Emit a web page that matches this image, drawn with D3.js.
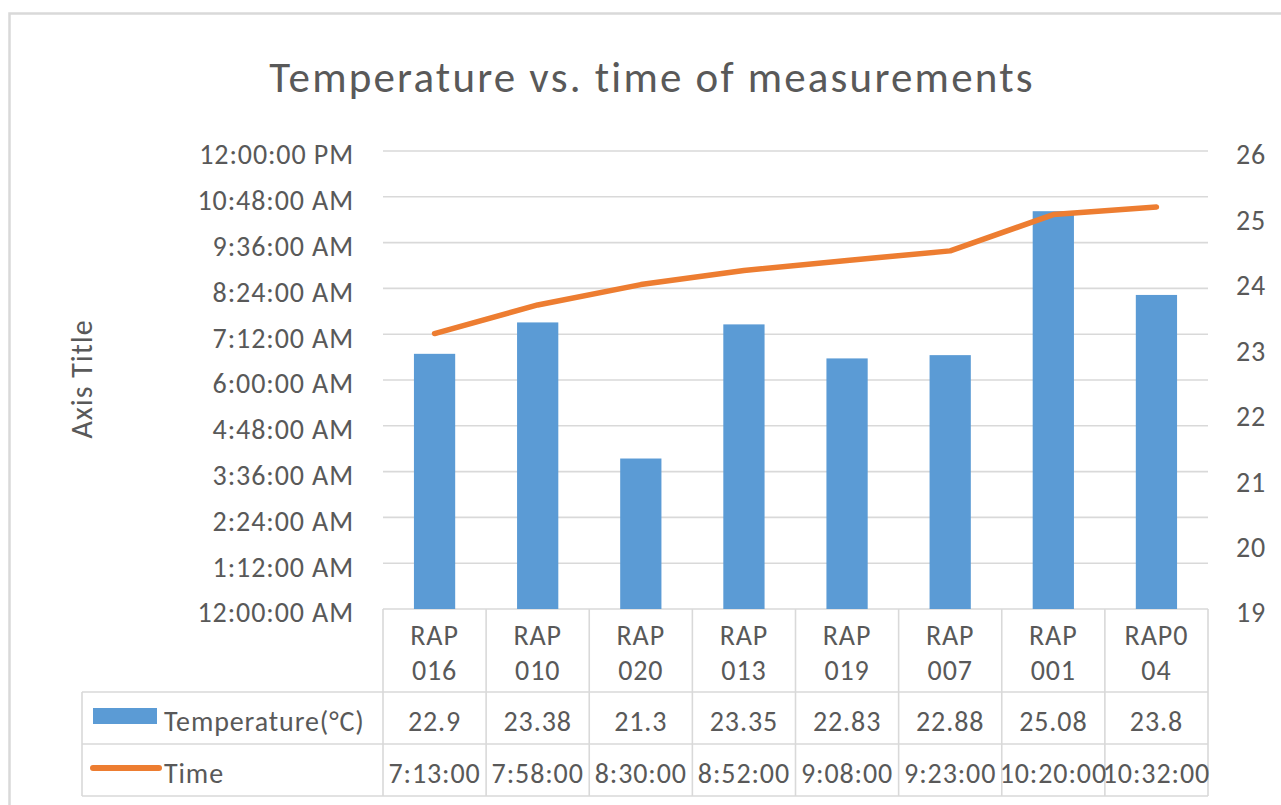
<!DOCTYPE html>
<html>
<head>
<meta charset="utf-8">
<script src="https://cdn.jsdelivr.net/npm/d3@7"></script>
<style>
  html, body { margin: 0; padding: 0; background: #ffffff; }
  svg { display: block; }
  text { font-family: Carlito, Calibri, Lato, sans-serif; fill: #595959; }
</style>
</head>
<body>
<svg id="chart" width="1281" height="805"></svg>
<script>
// Measurement stations, in the order they were visited
const categories = ["RAP 016", "RAP 010", "RAP 020", "RAP 013", "RAP 019", "RAP 007", "RAP 001", "RAP004"];
// Temperature per station (°C), right axis
const temperatures = [22.9, 23.38, 21.3, 23.35, 22.83, 22.88, 25.08, 23.8];
// Time of each measurement, left axis
const times = ["7:13:00", "7:58:00", "8:30:00", "8:52:00", "9:08:00", "9:23:00", "10:20:00", "10:32:00"];
// Axis ticks
const timeTicksMinutes = [0, 72, 144, 216, 288, 360, 432, 504, 576, 648, 720];
const tempTicks = [19, 20, 21, 22, 23, 24, 25, 26];

const seriesNames = ["Temperature(°C)", "Time"];
const chartTitle = "Temperature vs. time of measurements";
const leftAxisTitle = "Axis Title";

const BLUE = "#5b9bd5", ORANGE = "#ed7d31", GRID = "#d9d9d9";
const FONT = "Carlito, Calibri, Lato, sans-serif";
const LABEL_SIZE = 28, LABEL_SPACING = "0.9px";

const toMinutes = s => { const [h, m, sec] = s.split(":").map(Number); return h * 60 + m + sec / 60; };
const fmtClock = mins => {
  const h24 = Math.floor(mins / 60) % 24, m = Math.round(mins % 60);
  const h12 = h24 % 12 === 0 ? 12 : h24 % 12;
  return `${h12}:${String(m).padStart(2, "0")}:00 ${h24 < 12 ? "AM" : "PM"}`;
};
// Break a category name into two lines: at the space, otherwise after four characters
const wrapName = s => s.includes(" ") ? s.split(" ") : [s.slice(0, 4), s.slice(4)];

const svg = d3.select("#chart");
const labelStyle = sel => sel
  .attr("font-size", LABEL_SIZE)
  .attr("fill", "#595959")
  .style("font-family", FONT)
  .style("letter-spacing", LABEL_SPACING);

// Plot area and data-table rows
const plot = { left: 383, right: 1208, top: 151, bottom: 609 };
const table = { left: 82, headerBottom: 692, row1Bottom: 744, row2Bottom: 796 };

const x = d3.scaleBand().domain(categories).range([plot.left, plot.right]).paddingInner(0).paddingOuter(0);
const yTime = d3.scaleLinear().domain([0, 720]).range([plot.bottom, plot.top]);
const yTemp = d3.scaleLinear().domain([19, 26]).range([plot.bottom, plot.top]);

// Chart frame
svg.append("rect")
  .attr("x", 9.5).attr("y", 13.5).attr("width", 1400).attr("height", 900)
  .attr("fill", "#fff").attr("stroke", GRID).attr("stroke-width", 2.5);

// Title
svg.append("text")
  .attr("x", 652).attr("y", 92)
  .attr("text-anchor", "middle")
  .attr("font-size", 43)
  .style("letter-spacing", "2.2px")
  .text(chartTitle);

// Horizontal gridlines (left-axis ticks)
svg.append("g")
  .selectAll("line")
  .data(timeTicksMinutes)
  .join("line")
  .attr("x1", plot.left).attr("x2", plot.right)
  .attr("y1", d => yTime(d)).attr("y2", d => yTime(d))
  .attr("stroke", GRID).attr("stroke-width", 1.6);

// Left axis (time)
const leftAxis = d3.axisLeft(yTime).tickValues(timeTicksMinutes).tickFormat(fmtClock).tickSize(0).tickPadding(0);
const gLeft = svg.append("g").attr("transform", "translate(354,4)").call(leftAxis);
gLeft.select(".domain").remove();
gLeft.selectAll("text").call(labelStyle);

// Right axis (temperature)
const rightAxis = d3.axisRight(yTemp).tickValues(tempTicks).tickFormat(d3.format("d")).tickSize(0).tickPadding(0);
const gRight = svg.append("g").attr("transform", "translate(1236,4)").call(rightAxis);
gRight.select(".domain").remove();
gRight.selectAll("text").call(labelStyle);

// Left axis title
svg.append("text")
  .attr("transform", "translate(92,379) rotate(-90)")
  .attr("text-anchor", "middle")
  .attr("font-size", 30)
  .style("letter-spacing", "1px")
  .text(leftAxisTitle);

// Temperature bars
const barW = x.bandwidth() / 2.5;
svg.append("g")
  .selectAll("rect")
  .data(categories.map((c, i) => ({ c, v: temperatures[i] })))
  .join("rect")
  .attr("x", d => x(d.c) + (x.bandwidth() - barW) / 2)
  .attr("width", barW)
  .attr("y", d => yTemp(d.v))
  .attr("height", d => yTemp(19) - yTemp(d.v))
  .attr("fill", BLUE);

// Time line
const line = d3.line()
  .x(d => x(d.c) + x.bandwidth() / 2)
  .y(d => yTime(d.m));
svg.append("path")
  .datum(categories.map((c, i) => ({ c, m: toMinutes(times[i]) })))
  .attr("d", line)
  .attr("fill", "none")
  .attr("stroke", ORANGE)
  .attr("stroke-width", 5.5)
  .attr("stroke-linecap", "round")
  .attr("stroke-linejoin", "round");

// Data table grid
const tg = svg.append("g").attr("stroke", GRID).attr("stroke-width", 1.6);
[table.headerBottom, table.row1Bottom, table.row2Bottom].forEach(yy =>
  tg.append("line").attr("x1", table.left).attr("x2", plot.right).attr("y1", yy).attr("y2", yy));
tg.append("line").attr("x1", table.left).attr("x2", table.left).attr("y1", table.headerBottom).attr("y2", table.row2Bottom);
const bounds = categories.map(c => x(c)).concat([plot.right]);
bounds.forEach(bx =>
  tg.append("line").attr("x1", bx).attr("x2", bx).attr("y1", plot.bottom).attr("y2", table.row2Bottom));

// Category header (wrapped names)
const header = svg.append("g");
categories.forEach(c => {
  const cx = x(c) + x.bandwidth() / 2;
  wrapName(c).forEach((ln, k) =>
    header.append("text")
      .attr("x", cx).attr("y", 645 + k * 35)
      .attr("text-anchor", "middle")
      .call(labelStyle)
      .text(ln));
});

// Table values
const rowBaselines = [731, 783];
const rowValues = [temperatures.map(v => String(v)), times];
rowValues.forEach((vals, r) => {
  svg.append("g").selectAll("text")
    .data(vals)
    .join("text")
    .attr("x", (d, i) => x(categories[i]) + x.bandwidth() / 2)
    .attr("y", rowBaselines[r])
    .attr("text-anchor", "middle")
    .call(labelStyle)
    .text(d => d);
});

// Legend keys inside the table
svg.append("rect").attr("x", 93).attr("y", 708).attr("width", 64).attr("height", 16).attr("fill", BLUE);
svg.append("line").attr("x1", 93).attr("x2", 159).attr("y1", 768).attr("y2", 768)
  .attr("stroke", ORANGE).attr("stroke-width", 6).attr("stroke-linecap", "round");
seriesNames.forEach((n, r) =>
  svg.append("text").attr("x", 164).attr("y", rowBaselines[r]).call(labelStyle).text(n));
</script>
</body>
</html>
